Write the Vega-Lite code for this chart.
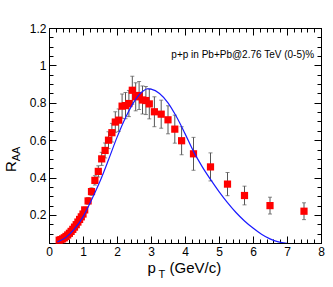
{
  "$schema": "https://vega.github.io/schema/vega-lite/v6.json",
  "width": 272,
  "height": 215,
  "autosize": "none",
  "padding": {"left": 49, "top": 28, "right": 12, "bottom": 44},
  "background": "white",
  "config": {
    "font": "Liberation Sans",
    "view": {"stroke": "black", "strokeWidth": 1},
    "axis": {
      "domainColor": "black", "domainWidth": 1, "tickColor": "black", "tickWidth": 1,
      "labelColor": "black", "titleColor": "black", "labelFont": "Liberation Sans", "titleFont": "Liberation Sans",
      "labelFontSize": 12, "titleFontWeight": "normal", "grid": false, "labelOverlap": false, "labelFlush": false, "labelBound": false
    }
  },
  "datasets": {
    "pts": [
      {"pt": 0.3, "raa": 0.065, "err": 0.005},
      {"pt": 0.35, "raa": 0.068, "err": 0.005},
      {"pt": 0.4, "raa": 0.072, "err": 0.005},
      {"pt": 0.45, "raa": 0.078, "err": 0.005},
      {"pt": 0.5, "raa": 0.085, "err": 0.006},
      {"pt": 0.55, "raa": 0.093, "err": 0.006},
      {"pt": 0.6, "raa": 0.102, "err": 0.006},
      {"pt": 0.65, "raa": 0.112, "err": 0.007},
      {"pt": 0.7, "raa": 0.123, "err": 0.007},
      {"pt": 0.75, "raa": 0.135, "err": 0.008},
      {"pt": 0.8, "raa": 0.148, "err": 0.008},
      {"pt": 0.85, "raa": 0.162, "err": 0.009},
      {"pt": 0.9, "raa": 0.176, "err": 0.01},
      {"pt": 0.95, "raa": 0.19, "err": 0.01},
      {"pt": 1.0, "raa": 0.205, "err": 0.012},
      {"pt": 1.05, "raa": 0.227, "err": 0.015},
      {"pt": 1.15, "raa": 0.275, "err": 0.018},
      {"pt": 1.25, "raa": 0.325, "err": 0.02},
      {"pt": 1.35, "raa": 0.385, "err": 0.025},
      {"pt": 1.45, "raa": 0.433, "err": 0.03},
      {"pt": 1.55, "raa": 0.5, "err": 0.035},
      {"pt": 1.65, "raa": 0.545, "err": 0.04},
      {"pt": 1.75, "raa": 0.6, "err": 0.045},
      {"pt": 1.85, "raa": 0.64, "err": 0.05},
      {"pt": 1.95, "raa": 0.697, "err": 0.055},
      {"pt": 2.05, "raa": 0.707, "err": 0.06},
      {"pt": 2.15, "raa": 0.782, "err": 0.065},
      {"pt": 2.25, "raa": 0.785, "err": 0.07},
      {"pt": 2.35, "raa": 0.796, "err": 0.07},
      {"pt": 2.45, "raa": 0.867, "err": 0.075},
      {"pt": 2.55, "raa": 0.832, "err": 0.075},
      {"pt": 2.65, "raa": 0.839, "err": 0.075},
      {"pt": 2.75, "raa": 0.815, "err": 0.075},
      {"pt": 2.85, "raa": 0.812, "err": 0.075},
      {"pt": 2.95, "raa": 0.794, "err": 0.08},
      {"pt": 3.1, "raa": 0.752, "err": 0.08},
      {"pt": 3.3, "raa": 0.739, "err": 0.075},
      {"pt": 3.5, "raa": 0.709, "err": 0.075},
      {"pt": 3.7, "raa": 0.659, "err": 0.075},
      {"pt": 3.9, "raa": 0.597, "err": 0.075},
      {"pt": 4.25, "raa": 0.527, "err": 0.088},
      {"pt": 4.75, "raa": 0.457, "err": 0.075},
      {"pt": 5.25, "raa": 0.365, "err": 0.062},
      {"pt": 5.75, "raa": 0.304, "err": 0.05},
      {"pt": 6.5, "raa": 0.25, "err": 0.045},
      {"pt": 7.5, "raa": 0.22, "err": 0.045}
    ],
    "curve": [
      {"pt": 0.25, "raa": 0.056},
      {"pt": 0.5, "raa": 0.08},
      {"pt": 0.75, "raa": 0.125},
      {"pt": 1.0, "raa": 0.19},
      {"pt": 1.25, "raa": 0.28},
      {"pt": 1.5, "raa": 0.38},
      {"pt": 1.75, "raa": 0.495},
      {"pt": 2.0, "raa": 0.615},
      {"pt": 2.25, "raa": 0.72},
      {"pt": 2.5, "raa": 0.805},
      {"pt": 2.75, "raa": 0.86},
      {"pt": 2.9, "raa": 0.875},
      {"pt": 3.0, "raa": 0.873},
      {"pt": 3.25, "raa": 0.85},
      {"pt": 3.5, "raa": 0.8},
      {"pt": 3.75, "raa": 0.725},
      {"pt": 4.0, "raa": 0.635},
      {"pt": 4.25, "raa": 0.54},
      {"pt": 4.5, "raa": 0.46},
      {"pt": 4.75, "raa": 0.39},
      {"pt": 5.0, "raa": 0.325},
      {"pt": 5.25, "raa": 0.266},
      {"pt": 5.5, "raa": 0.213},
      {"pt": 5.75, "raa": 0.168},
      {"pt": 6.0, "raa": 0.13},
      {"pt": 6.25, "raa": 0.097},
      {"pt": 6.5, "raa": 0.072},
      {"pt": 6.75, "raa": 0.056},
      {"pt": 7.0, "raa": 0.048}
    ],
    "label": [
      {"pt": 7.8, "raa": 1.04, "text": "p+p in Pb+Pb@2.76 TeV (0-5)%"}
    ]
  },
  "resolve": {"axis": {"x": "independent", "y": "independent"}},
  "layer": [
    {
      "data": {"name": "pts"},
      "mark": {"type": "errorbar", "color": "#555555", "ticks": {"size": 4, "thickness": 1}, "rule": {"strokeWidth": 1}},
      "encoding": {
        "x": {"field": "pt", "type": "quantitative", "scale": {"domain": [0, 8], "nice": false, "zero": false},
          "axis": {"orient": "top", "title": null, "labels": false, "domain": true,
            "values": [0,0.2,0.4,0.6,0.8,1,1.2,1.4,1.6,1.8,2,2.2,2.4,2.6,2.8,3,3.2,3.4,3.6,3.8,4,4.2,4.4,4.6,4.8,5,5.2,5.4,5.6,5.8,6,6.2,6.4,6.6,6.8,7,7.2,7.4,7.6,7.8,8],
            "tickSize": {"condition": {"test": "abs(datum.value-round(datum.value))<0.001", "value": -7}, "value": -4}}},
        "y": {"field": "raa", "type": "quantitative", "scale": {"domain": [0.05, 1.2], "nice": false, "zero": false},
          "axis": {"orient": "right", "title": null, "labels": false, "domain": true,
            "values": [0.05,0.1,0.15,0.2,0.25,0.3,0.35,0.4,0.45,0.5,0.55,0.6,0.65,0.7,0.75,0.8,0.85,0.9,0.95,1,1.05,1.1,1.15,1.2],
            "tickSize": {"condition": {"test": "abs(datum.value*5-round(datum.value*5))<0.001", "value": -7}, "value": -4}}},
        "yError": {"field": "err"}
      }
    },
    {
      "data": {"name": "pts"},
      "mark": {"type": "square", "size": 52, "color": "#ff0000", "opacity": 1},
      "encoding": {
        "x": {"field": "pt", "type": "quantitative", "scale": {"domain": [0, 8], "nice": false, "zero": false},
          "axis": {"orient": "bottom", "title": "p", "titleFontSize": 15, "titleX": 98, "titleY": 29, "titleAlign": "left", "titleBaseline": "alphabetic", "titleAnchor": null,
            "values": [0,0.2,0.4,0.6,0.8,1,1.2,1.4,1.6,1.8,2,2.2,2.4,2.6,2.8,3,3.2,3.4,3.6,3.8,4,4.2,4.4,4.6,4.8,5,5.2,5.4,5.6,5.8,6,6.2,6.4,6.6,6.8,7,7.2,7.4,7.6,7.8,8],
            "labelExpr": "abs(datum.value-round(datum.value))<0.001 ? format(datum.value, 'd') : ''",
            "labelPadding": 10,
            "tickSize": {"condition": {"test": "abs(datum.value-round(datum.value))<0.001", "value": -7}, "value": -4}}},
        "y": {"field": "raa", "type": "quantitative", "scale": {"domain": [0.05, 1.2], "nice": false, "zero": false},
          "axis": {"orient": "left", "title": "R", "titleFontSize": 15, "titleAngle": 270, "titleX": -34, "titleY": 138, "titleAlign": "center", "titleBaseline": "alphabetic", "titleAnchor": null,
            "values": [0.05,0.1,0.15,0.2,0.25,0.3,0.35,0.4,0.45,0.5,0.55,0.6,0.65,0.7,0.75,0.8,0.85,0.9,0.95,1,1.05,1.1,1.15,1.2],
            "labelExpr": "abs(datum.value*5-round(datum.value*5))<0.001 ? format(datum.value, '~g') : ''",
            "labelPadding": 10,
            "tickSize": {"condition": {"test": "abs(datum.value*5-round(datum.value*5))<0.001", "value": -7}, "value": -4}}}
      }
    },
    {
      "data": {"name": "curve"},
      "mark": {"type": "line", "color": "#1a1aff", "strokeWidth": 1.2, "interpolate": "monotone", "clip": true},
      "encoding": {
        "x": {"field": "pt", "type": "quantitative", "scale": {"domain": [0, 8], "nice": false, "zero": false},
          "axis": {"orient": "bottom", "title": "T", "titleFontSize": 11, "titleX": 109, "titleY": 34, "titleAlign": "left", "titleBaseline": "alphabetic", "titleAnchor": null,
            "labels": false, "ticks": false, "domain": false, "values": []}},
        "y": {"field": "raa", "type": "quantitative", "scale": {"domain": [0.05, 1.2], "nice": false, "zero": false},
          "axis": {"orient": "left", "title": "AA", "titleFontSize": 11, "titleAngle": 270, "titleX": -29.5, "titleY": 125.5, "titleAlign": "center", "titleBaseline": "alphabetic", "titleAnchor": null,
            "labels": false, "ticks": false, "domain": false, "values": []}}
      }
    },
    {
      "data": {"name": "label"},
      "mark": {"type": "text", "align": "right", "baseline": "alphabetic", "fontSize": 10, "font": "Liberation Sans", "color": "black"},
      "encoding": {
        "x": {"field": "pt", "type": "quantitative", "scale": {"domain": [0, 8], "nice": false, "zero": false},
          "axis": {"orient": "bottom", "title": "(GeV/c)", "titleFontSize": 15, "titleX": 120, "titleY": 29, "titleAlign": "left", "titleBaseline": "alphabetic", "titleAnchor": null,
            "labels": false, "ticks": false, "domain": false, "values": []}},
        "y": {"field": "raa", "type": "quantitative", "scale": {"domain": [0.05, 1.2], "nice": false, "zero": false}, "axis": null},
        "text": {"field": "text"}
      }
    }
  ]
}
